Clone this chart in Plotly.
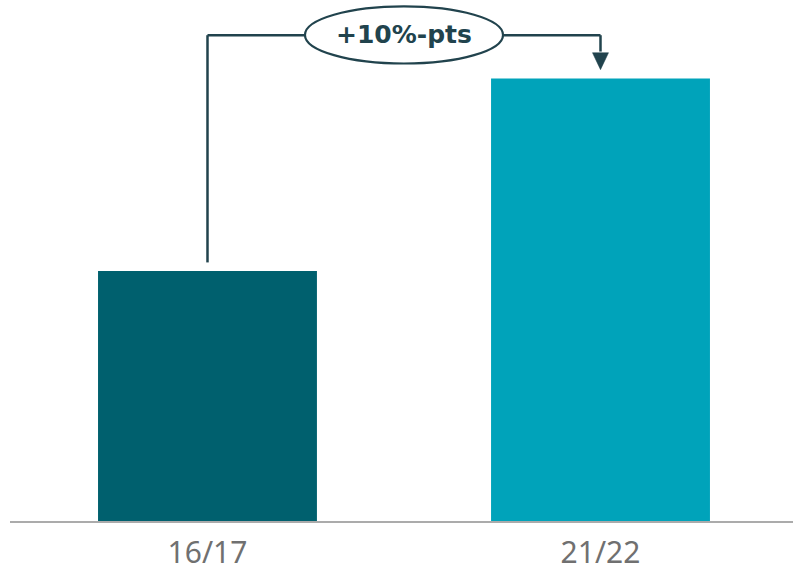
import plotly.graph_objects as go

categories = ["16/17", "21/22"]
values = [13, 23]
bar_colors = ["#00606E", "#00A3BA"]
change_label = "+10%-pts"

ink = "#21434D"
bracket_y = 25.25
ell_half_w = 0.252
ell_y0, ell_y1 = 23.78, 26.75

fig = go.Figure()
fig.add_trace(go.Bar(
    x=[0, 1], y=values, marker=dict(color=bar_colors, line=dict(width=0)),
    width=0.557, hoverinfo="skip"))

shapes = []
shapes.append(dict(type="line", xref="x", yref="y", x0=0, x1=0,
                   y0=values[0] + 0.44, y1=bracket_y, line=dict(color=ink, width=2.5)))
shapes.append(dict(type="line", xref="x", yref="y", x0=0, x1=0.5 - ell_half_w,
                   y0=bracket_y, y1=bracket_y, line=dict(color=ink, width=2.5)))
shapes.append(dict(type="line", xref="x", yref="y", x0=0.5 + ell_half_w, x1=1,
                   y0=bracket_y, y1=bracket_y, line=dict(color=ink, width=2.5)))
shapes.append(dict(type="line", xref="x", yref="y", x0=1, x1=1,
                   y0=bracket_y, y1=24.4, line=dict(color=ink, width=2.5)))
tip = values[1] + 0.46
shapes.append(dict(type="path", xref="x", yref="y",
                   path=f"M {1-0.0204},24.34 L {1+0.0204},24.34 L 1,{tip} Z",
                   fillcolor=ink, line=dict(color=ink, width=0.5)))
shapes.append(dict(type="circle", xref="x", yref="y",
                   x0=0.5 - ell_half_w, x1=0.5 + ell_half_w, y0=ell_y0, y1=ell_y1,
                   fillcolor="white", line=dict(color=ink, width=2.2)))

fig.update_layout(
    width=793, height=572,
    margin=dict(l=10, r=0, t=0, b=48),
    paper_bgcolor="white", plot_bgcolor="white",
    showlegend=False,
    shapes=shapes,
    annotations=[dict(x=0.5, y=(ell_y0 + ell_y1) / 2, xref="x", yref="y",
                      text=f"<b>{change_label}</b>", showarrow=False,
                      font=dict(family="DejaVu Sans", size=25, color=ink))],
    xaxis=dict(range=[-0.5025, 1.4898], tickmode="array", tickvals=[0, 1],
               ticktext=categories, showgrid=False, zeroline=False,
               showline=True, linecolor="#ABABAB", linewidth=2,
               ticks="", ticklabelstandoff=4,
               tickfont=dict(family="Noto Sans", size=30, color="#707070")),
    yaxis=dict(range=[0, 27.08], visible=False, showgrid=False, zeroline=False),
)

fig.write_html("out.html", config={"displayModeBar": False},
               post_script="document.body.style.margin='0';")
